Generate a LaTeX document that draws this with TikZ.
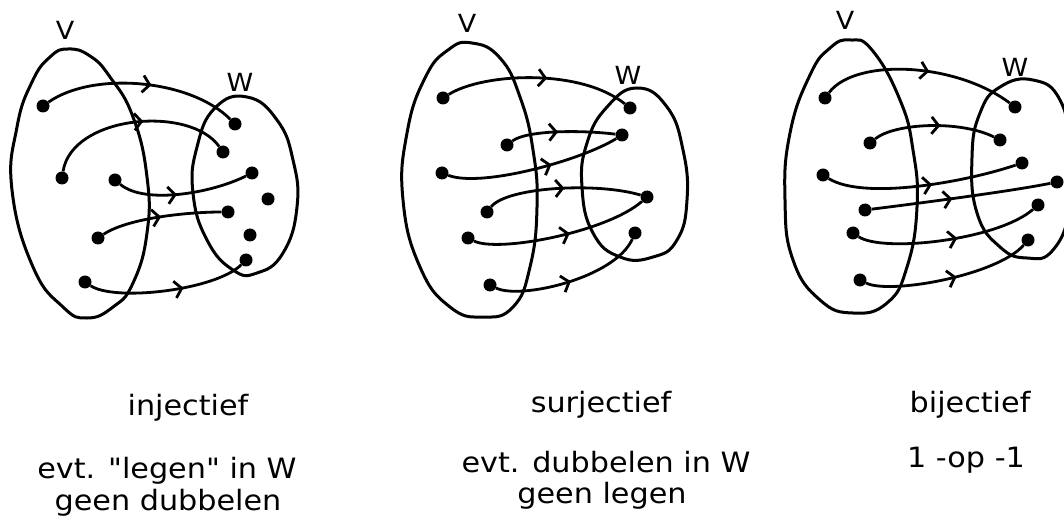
\documentclass[tikz,border=0pt]{standalone}
\usepackage{fontspec}
\newfontfamily\hand{DejaVu Sans}[FakeStretch=1.08]
\usetikzlibrary{arrows.meta,decorations.markings}
\tikzset{
  setline/.style={line width=3pt, line join=round},
  pt/.style={circle, fill=black, inner sep=0pt, minimum size=13pt},
  arr/.style={line width=2.8pt, postaction={decorate},
    decoration={markings, mark=at position #1 with {\arrow{Straight Barb[length=7pt,width=17pt]}}}},
  arr/.default=0.5,
  lab/.style={font=\hand\fontsize{25}{28}\selectfont, inner sep=0pt},
  txt/.style={font=\hand\fontsize{28}{32}\selectfont, inner sep=0pt, anchor=base},
}
\begin{document}
\begin{tikzpicture}[x=1pt,y=-1pt]
\useasboundingbox (0,0) rectangle (1064,526);
% ---------- diagram 1: injectief ----------
\draw[setline] plot[smooth cycle, tension=0.8] coordinates {(68,49) (90,56) (110,77) (133,117) (147,177) (147,233) (133,283) (113,307) (87,318) (63,307) (33,267) (12,190) (17,127) (32,82) (50,57)};
\draw[setline] plot[smooth cycle, tension=0.8] coordinates {(247,97) (277,120) (293,160) (297,207) (283,253) (257,273) (233,270) (207,240) (193,193) (197,147) (215,108)};
\node[lab] (v1) at (65,30) {V};
\node[lab] (w1) at (240,82) {W};
\node[pt] (a1) at (43,106) {};
\node[pt] (a2) at (62,178) {};
\node[pt] (a3) at (115,180) {};
\node[pt] (a4) at (98,238) {};
\node[pt] (a5) at (85,282) {};
\node[pt] (b1) at (235,124) {};
\node[pt] (b2) at (223,152) {};
\node[pt] (b3) at (252,173) {};
\node[pt] (b4) at (268,199) {};
\node[pt] (b5) at (228,212) {};
\node[pt] (b6) at (250,235) {};
\node[pt] (b7) at (246,260) {};
\draw[arr=0.55] (a1) .. controls +(50,-35) and +(-45,-45) .. (b1);
\draw[arr=0.55] (a2) .. controls +(10,-63) and +(-33,-47) .. (b2);
\draw[arr=0.45] (a3) .. controls +(30,25) and +(-40,20) .. (b3);
\draw[arr=0.5] (a4) .. controls +(30,-20) and +(-40,0) .. (b5);
\draw[arr=0.6] (a5) .. controls +(30,20) and +(-30,30) .. (b7);
% ---------- diagram 2: surjectief ----------
\draw[setline] plot[smooth cycle, tension=0.8] coordinates {(472,43) (500,58) (520,97) (533,150) (537,207) (530,267) (513,307) (483,317) (450,307) (420,267) (403,200) (407,133) (425,78) (448,50)};
\draw[setline] plot[smooth cycle, tension=0.8] coordinates {(637,88) (667,107) (683,150) (687,200) (677,240) (653,257) (620,257) (593,233) (582,187) (587,143) (607,107)};
\node[lab] (v2) at (467,23) {V};
\node[lab] (w2) at (628,75) {W};
\node[pt] (d1) at (443,98) {};
\node[pt] (d2) at (507,145) {};
\node[pt] (d3) at (442,173) {};
\node[pt] (d4) at (487,212) {};
\node[pt] (d5) at (468,238) {};
\node[pt] (d6) at (490,285) {};
\node[pt] (e1) at (630,108) {};
\node[pt] (e2) at (622,135) {};
\node[pt] (e3) at (647,197) {};
\node[pt] (e4) at (635,233) {};
\draw[arr=0.55] (d1) .. controls +(40,-25) and +(-50,-40) .. (e1);
\draw[arr=0.45] (d2) .. controls +(20,-15) and +(-40,-5) .. (e2);
\draw[arr=0.6] (d3) .. controls +(40,15) and +(-40,25) .. (e2);
\draw[arr=0.5] (d4) .. controls +(20,-25) and +(-50,-15) .. (e3);
\draw[arr=0.55] (d5) .. controls +(30,15) and +(-40,35) .. (e3);
\draw[arr=0.5] (d6) .. controls +(30,15) and +(-20,45) .. (e4);
% ---------- diagram 3: bijectief ----------
\draw[setline] plot[smooth cycle, tension=0.8] coordinates {(850,40) (872,50) (900,100) (913,150) (917,207) (907,267) (887,303) (853,313) (820,300) (793,260) (785,200) (790,133) (810,75) (830,48)};
\draw[setline] plot[smooth cycle, tension=0.8] coordinates {(1033,80) (1060,100) (1070,150) (1070,207) (1053,250) (1027,258) (1000,247) (977,213) (972,157) (980,113) (1000,87)};
\node[lab] (v3) at (845,20) {V};
\node[lab] (w3) at (1015,67) {W};
\node[pt] (g1) at (825,98) {};
\node[pt] (g2) at (870,143) {};
\node[pt] (g3) at (823,175) {};
\node[pt] (g4) at (865,210) {};
\node[pt] (g5) at (853,233) {};
\node[pt] (g6) at (860,280) {};
\node[pt] (h1) at (1015,107) {};
\node[pt] (h2) at (1000,140) {};
\node[pt] (h3) at (1022,163) {};
\node[pt] (h4) at (1057,182) {};
\node[pt] (h5) at (1038,205) {};
\node[pt] (h6) at (1028,240) {};
\draw[arr=0.55] (g1) .. controls +(30,-40) and +(-60,-45) .. (h1);
\draw[arr=0.55] (g2) .. controls +(25,-20) and +(-40,-20) .. (h2);
\draw[arr=0.55] (g3) .. controls +(40,25) and +(-60,20) .. (h3);
\draw[arr=0.45] (g4) .. controls +(40,-5) and +(-50,10) .. (h4);
\draw[arr=0.55] (g5) .. controls +(30,20) and +(-40,35) .. (h5);
\draw[arr=0.55] (g6) .. controls +(30,15) and +(-30,35) .. (h6);
% ---------- texts ----------
\node[txt] (t1) at (188,415) {injectief};
\node[txt] (t2) at (167,478) {evt. "legen" in W};
\node[txt] (t3) at (168,510) {geen dubbelen};
\node[txt] (t4) at (601,412) {surjectief};
\node[txt] (t5) at (606,472) {evt. dubbelen in W};
\node[txt] (t6) at (602,503) {geen legen};
\node[txt] (t7) at (970,412) {bijectief};
\node[txt] (t8) at (966,467) {1 -op -1};
\end{tikzpicture}
\end{document}
